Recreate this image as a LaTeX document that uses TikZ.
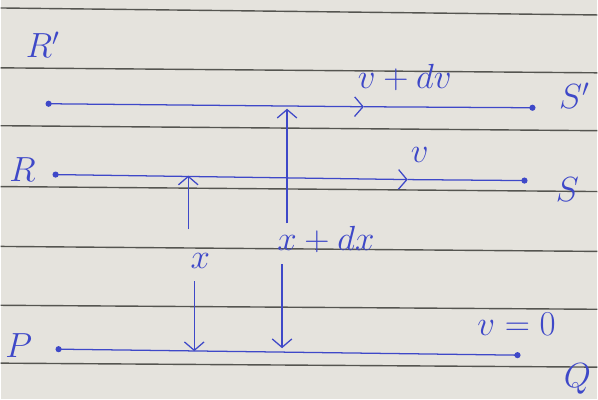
\documentclass[tikz,border=0pt]{standalone}
\usetikzlibrary{arrows.meta}
\definecolor{ink}{RGB}{62,72,200}
\definecolor{paper}{RGB}{229,227,221}
\definecolor{riga}{RGB}{85,85,80}
\tikzset{
  penna/.style={draw=ink, line width=0.9pt},
  lab/.style={text=ink, font=\fontsize{25}{29}\selectfont},
  freccia/.style={penna, -{Straight Barb[length=6pt,width=14pt]}},
}
\begin{document}
\begin{tikzpicture}[x=0.025cm,y=-0.025cm]
    % Foglio a righe
    \fill[paper] (0,0) rectangle (598,400);
    \foreach \ya/\yb in {8/15,68/73,126/131,187/192,247/252,306/310,364/368}
        \draw[riga, line width=1pt] (0,\ya) -- (598,\yb);
    % Strato superiore R'S'
    \coordinate (Rp) at (48,104);
    \coordinate (Mp) at (364,107);
    \coordinate (Sp) at (533,108);
    \fill[ink] (Rp) circle (2.2pt);
    \fill[ink] (Sp) circle (2.2pt);
    \draw[freccia] (Rp) -- (Mp);
    \draw[penna] (Mp) -- (Sp);
    \node[lab] (lRp) at (42,45) {$R'$};
    \node[lab] (lSp) at (575,96) {$S'$};
    \node[lab] (lvdv) at (405,78) {$v+dv$};
    % Strato R S
    \coordinate (R) at (55,175);
    \coordinate (M) at (408,180);
    \coordinate (S) at (525,181);
    \fill[ink] (R) circle (2.2pt);
    \fill[ink] (S) circle (2.2pt);
    \draw[freccia] (R) -- (M);
    \draw[penna] (M) -- (S);
    \node[lab] (lR) at (22,170) {$R$};
    \node[lab] (lS) at (568,190) {$S$};
    \node[lab] (lv) at (420,155) {$v$};
    % Piano fisso P Q
    \coordinate (P) at (58,350);
    \coordinate (Q) at (518,356);
    \fill[ink] (P) circle (2.2pt);
    \fill[ink] (Q) circle (2.2pt);
    \draw[penna] (P) -- (Q);
    \node[lab] (lP) at (18,346) {$P$};
    \node[lab] (lQ) at (578,380) {$Q$};
    \node[lab] (lv0) at (517,325) {$v=0$};
    % Distanze x e x+dx
    \node[lab] (lx) at (200,262) {$x$};
    \node[lab] (lxdx) at (326,240) {$x+dx$};
    \coordinate (xa) at (188,230);
    \coordinate (xb) at (188,176);
    \coordinate (xc) at (194,282);
    \coordinate (xd) at (194,352);
    \draw[freccia] (xa) -- (xb);
    \draw[freccia] (xc) -- (xd);
    \coordinate (ya) at (287,224);
    \coordinate (yb) at (287,109);
    \coordinate (yc) at (282,265);
    \coordinate (yd) at (282,349);
    \draw[freccia] (ya) -- (yb);
    \draw[freccia] (yc) -- (yd);
\end{tikzpicture}
\end{document}
